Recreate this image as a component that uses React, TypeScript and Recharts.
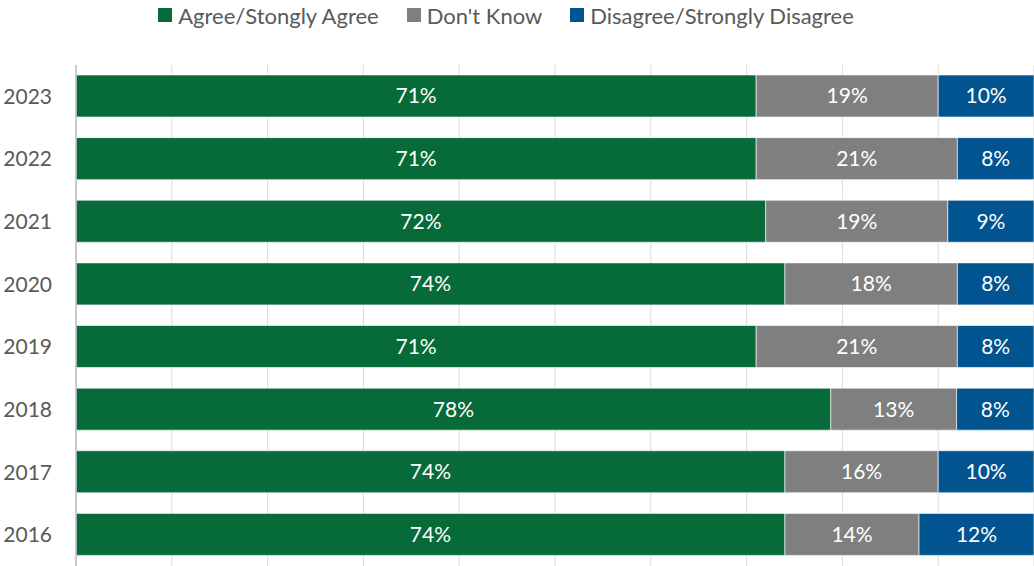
import React from "react";
import { BarChart, Bar, XAxis, YAxis, CartesianGrid, LabelList } from "recharts";

const years = ["2023", "2022", "2021", "2020", "2019", "2018", "2017", "2016"];
const agree = [71, 71, 72, 74, 71, 78, 74, 74];
const dontKnow = [19, 21, 19, 18, 21, 13, 16, 14];
const disagree = [10, 8, 9, 8, 8, 8, 10, 12];
const xTicks = [0, 0.1, 0.2, 0.3, 0.4, 0.5, 0.6, 0.7, 0.8, 0.9, 1];

const seriesNames = ["Agree/Stongly Agree", "Don't Know", "Disagree/Strongly Disagree"];
const colors = ["#066b38", "#7f7f7f", "#01548f"];

const data = years.map((y, i) => ({
  year: y,
  agree: agree[i],
  dontKnow: dontKnow[i],
  disagree: disagree[i],
}));

const FONT = "Lato, 'Open Sans', sans-serif";

const pct = (v: any) => `${v}%`;

function LegendBox() {
  return (
    <div
      style={{
        position: "absolute",
        left: 0,
        top: 0,
        width: 1034,
        height: 30,
        display: "flex",
        justifyContent: "center",
        alignItems: "center",
        fontFamily: FONT,
        fontSize: 22,
        color: "#595959",
        gap: 28,
        paddingRight: 22,
        boxSizing: "border-box",
      }}
    >
      {seriesNames.map((n, i) => (
        <div key={n} style={{ display: "flex", alignItems: "center" }}>
          <span style={{ display: "inline-block", width: 14, height: 14, background: colors[i], marginRight: 6 }} />
          <span>{n}</span>
        </div>
      ))}
    </div>
  );
}

export default function App() {
  return (
    <div style={{ position: "absolute", left: 0, top: 0, width: 1034, height: 566, background: "#fff" }}>
      <LegendBox />
      <BarChart
        width={1034}
        height={566}
        data={data}
        layout="vertical"
        stackOffset="expand"
        barSize={42}
        margin={{ top: 65, right: 0, bottom: 0, left: 0 }}
      >
        <CartesianGrid horizontal={false} stroke="#d9d9d9" />
        <XAxis type="number" domain={[0, 1]} ticks={xTicks} hide />
        <YAxis
          type="category"
          dataKey="year"
          width={76}
          tickLine={false}
          tickSize={0}
          tickMargin={24}
          axisLine={{ stroke: "#bfbfbf", strokeWidth: 1.5 }}
          tick={{ fill: "#595959", fontSize: 21, fontFamily: FONT }}
        />
        <Bar dataKey="agree" stackId="a" fill={colors[0]} stroke="#ffffff" strokeOpacity={0.6} isAnimationActive={false}>
          <LabelList dataKey="agree" position="center" formatter={pct} fill="#ffffff" fontSize={21} fontFamily={FONT} />
        </Bar>
        <Bar dataKey="dontKnow" stackId="a" fill={colors[1]} stroke="#ffffff" strokeOpacity={0.6} isAnimationActive={false}>
          <LabelList dataKey="dontKnow" position="center" formatter={pct} fill="#ffffff" fontSize={21} fontFamily={FONT} />
        </Bar>
        <Bar dataKey="disagree" stackId="a" fill={colors[2]} stroke="#ffffff" strokeOpacity={0.6} isAnimationActive={false}>
          <LabelList dataKey="disagree" position="center" formatter={pct} fill="#ffffff" fontSize={21} fontFamily={FONT} />
        </Bar>
      </BarChart>
    </div>
  );
}
